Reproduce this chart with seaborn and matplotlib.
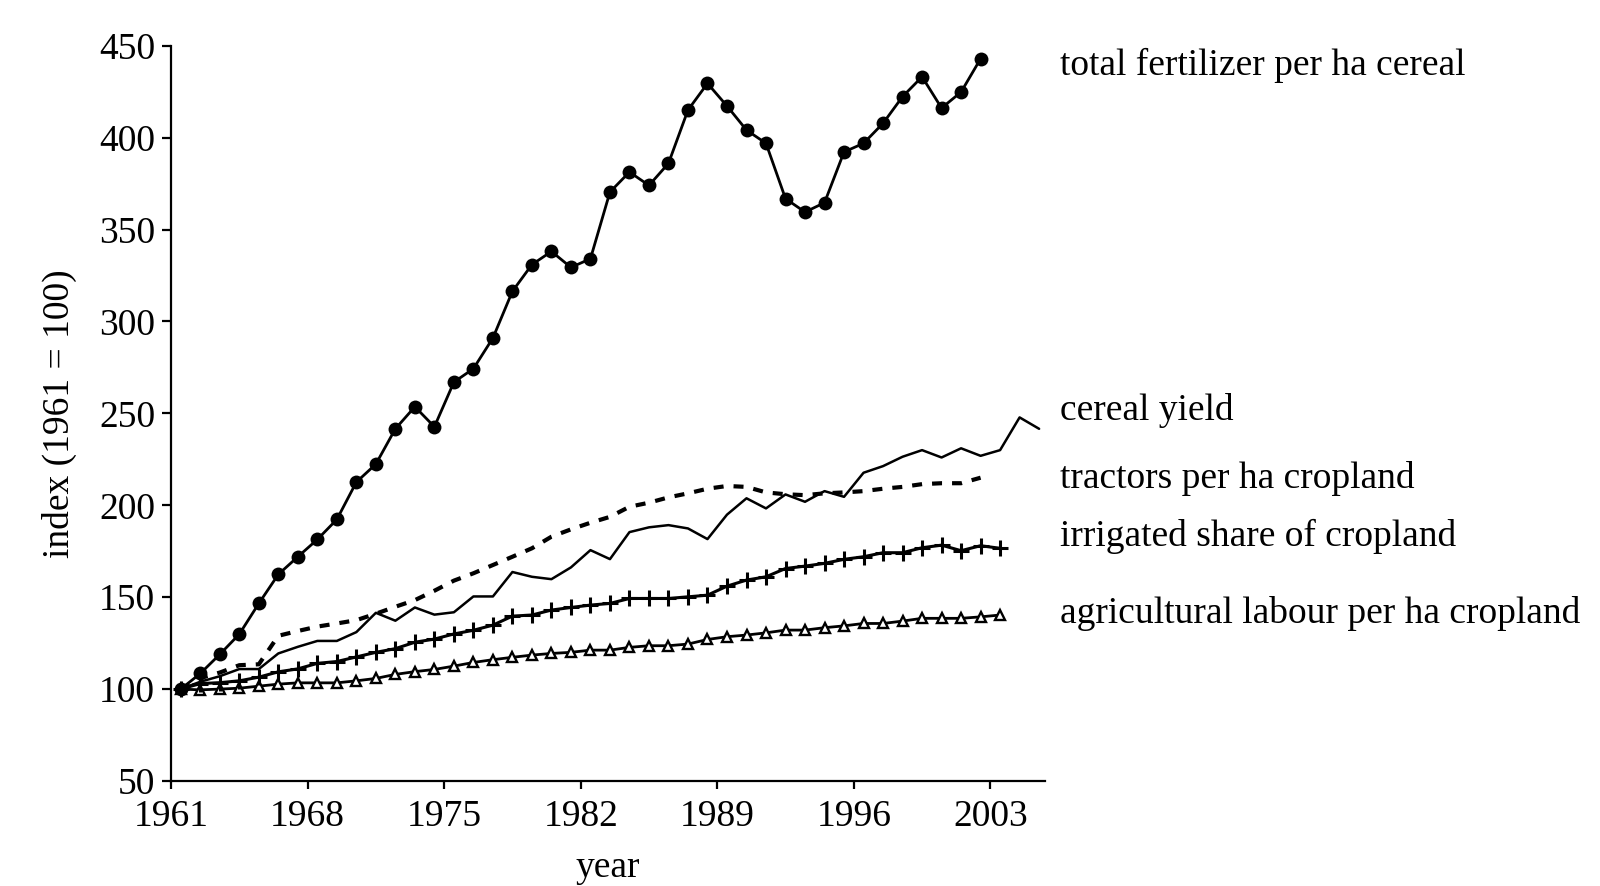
import numpy as np
import pandas as pd
import seaborn as sns
import matplotlib.pyplot as plt

# index values (1961 = 100)
fert_years = list(range(1961, 2003))
fertilizer = [100, 108.5, 118.9, 129.9, 146.6, 162.4, 172, 181.4, 192.3, 212.6,
              222.4, 241.6, 253.6, 242.7, 267, 274.3, 291, 316.4, 330.9, 338.1,
              329.4, 334.1, 370.4, 381.3, 374, 386, 415, 429.5, 417.2, 404.1,
              396.9, 366.8, 359.5, 364.6, 392.2, 396.9, 407.8, 422.3, 433.1, 416.1,
              424.8, 442.9]

yield_years = list(range(1961, 2006))
cereal_yield = [100, 104, 107, 110.9, 110.9, 119.4, 123, 126.2, 126.2, 131,
                141.5, 137.2, 144.4, 140.5, 141.8, 150.4, 150.4, 163.7, 161.1, 159.8,
                166.2, 175.6, 170.7, 185.4, 188, 189.2, 187.4, 181.6, 194.9, 203.8,
                198.3, 205.9, 201.9, 207.7, 204.6, 217.7, 221.3, 226.4, 230, 226,
                231, 226.9, 230, 247.8, 241.6]

tractor_years = list(range(1961, 2003))
tractors = [100, 106, 109, 113, 113.5, 129, 131.6, 134, 135.7, 137.5,
            141, 144.8, 148.4, 153.5, 159, 163, 167.5, 172, 176.6, 182.9,
            186.9, 190.5, 193.7, 199.2, 201.4, 204.3, 206.5, 209, 210.5, 210,
            207, 206, 205.5, 206.5, 207, 207.7, 209, 210, 211.5, 212,
            212, 215]

irr_years = list(range(1961, 2004))
irrigated = [100, 103, 103.5, 104.5, 106.5, 109.4, 111, 114, 115, 117.5,
             120, 122, 125.5, 127.2, 130, 132, 134.8, 139.7, 140.3, 143,
             144.4, 145.7, 146.6, 149.3, 149.3, 149.3, 150.2, 151.1, 156, 159.3,
             161.1, 165.6, 166.9, 168.4, 170.6, 172, 174.2, 174.2, 176.9, 178.3,
             175.3, 178, 176.6]

labour_years = list(range(1961, 2004))
labour = [100, 99.6, 100, 100.5, 101.6, 102.7, 103.4, 103.4, 103.4, 104.5,
          105.8, 108, 109.5, 110.7, 112.5, 114.5, 116, 117.3, 118.5, 119.4,
          120, 121.2, 121.2, 122.7, 123.6, 123.6, 124.5, 127, 128.5, 129.4,
          130.6, 132.1, 132.1, 133.4, 134.4, 135.7, 135.7, 137, 138.5, 138.5,
          138.5, 139.3, 140.3]

label_names = ["total fertilizer per ha cereal", "cereal yield", "tractors per ha cropland",
               "irrigated share of cropland", "agricultural labour per ha cropland"]
label_levels = [439.5, 251.3, 214.8, 183.3, 141]

tick_years = list(range(1961, 2004, 7))

sns.set_style("ticks")
plt.rcParams['font.family'] = ['Liberation Serif', 'DejaVu Serif']
plt.rcParams['font.size'] = 27
plt.rcParams['text.color'] = 'black'
plt.rcParams['axes.labelcolor'] = 'black'

fig = plt.figure(figsize=(16, 8.86), dpi=100)
ax = fig.add_axes([0.1069, 0.1185, 0.5462, 0.8299])

# labour (open triangles)
sns.lineplot(x=labour_years, y=labour, ax=ax, color='black', linewidth=2,
             marker='^', markersize=7.5, markerfacecolor='white',
             markeredgecolor='black', markeredgewidth=1.7)
# irrigated share (+)
sns.lineplot(x=irr_years, y=irrigated, ax=ax, color='black', linewidth=2.2,
             marker='+', markersize=11, markeredgewidth=2.2,
             markeredgecolor='black')
# cereal yield (thin solid)
sns.lineplot(x=yield_years, y=cereal_yield, ax=ax, color='black', linewidth=1.8)
# tractors (thick dashed)
sns.lineplot(x=tractor_years, y=tractors, ax=ax, color='black', linewidth=3,
             linestyle=(0, (2.4, 2.4)))
# fertilizer (filled circles)
sns.lineplot(x=fert_years, y=fertilizer, ax=ax, color='black', linewidth=2,
             marker='o', markersize=10, markeredgewidth=0)

ax.set_xlim(1960.5, 2005.3)
ax.set_ylim(50, 450)
ax.set_yticks(range(50, 451, 50))
ax.set_xticks([y - 0.5 for y in tick_years])
ax.set_xticklabels([str(y) for y in tick_years])

sns.despine(ax=ax)
for side in ['left', 'bottom']:
    ax.spines[side].set_linewidth(1.6)
    ax.spines[side].set_color('black')
ax.tick_params(axis='both', direction='out', width=1.6, color='black',
               labelsize=27, labelcolor='black')
ax.tick_params(axis='y', length=6.5, pad=5)
ax.tick_params(axis='x', length=5.5, pad=8)

ax.set_xlabel("year", fontsize=27, labelpad=12)
ax.set_ylabel("index (1961 = 100)", fontsize=27, labelpad=16)

for name, level in zip(label_names, label_levels):
    ax.annotate(name, xy=(0.6625, level), xycoords=('figure fraction', 'data'),
                fontsize=27, va='center', ha='left', annotation_clip=False)

fig.savefig("out.png", dpi=100, facecolor='white')
